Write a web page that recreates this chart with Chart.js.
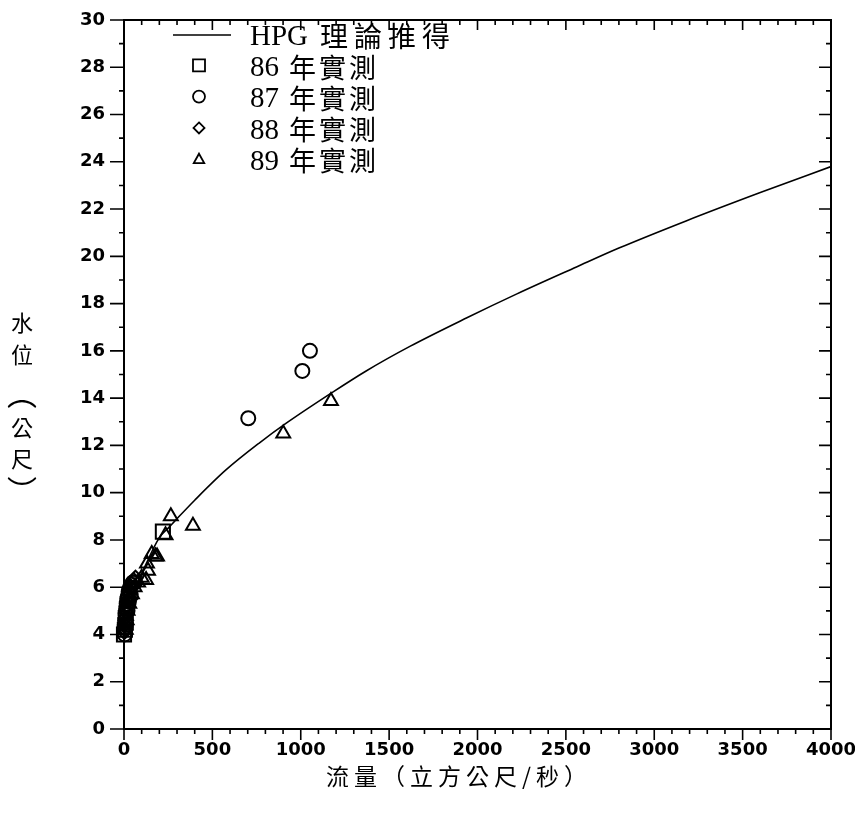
<!DOCTYPE html>
<html>
<head>
<meta charset="utf-8">
<script src="https://cdn.jsdelivr.net/npm/chart.js@4.4.1/dist/chart.umd.min.js"></script>
<style>
  html, body { margin: 0; padding: 0; background: #fff; }
  #wrap { width: 855px; height: 816px; position: relative; }
</style>
</head>
<body>
<div id="wrap"><canvas id="ratingCurve"></canvas></div>
<script>
// HPG theoretical rating curve (discharge, stage)
var hpgQ = [0, 20, 40, 70, 120, 200, 250, 300, 400, 575, 765, 920, 1170, 1370, 1620, 1940, 2220, 2560, 2800, 3180, 3600, 4000];
var hpgH = [4.0, 4.5, 5.2, 6.0, 6.9, 8.1, 8.5, 8.9, 9.68, 10.95, 12.1, 12.95, 14.2, 15.15, 16.2, 17.4, 18.4, 19.55, 20.35, 21.5, 22.7, 23.8];

// measured points per year
var q86 = [0, 5, 10, 220];
var h86 = [4.0, 4.2, 4.5, 8.35];
var q87 = [3, 6, 8, 12, 15, 18, 22, 26, 30, 35, 42, 50, 20, 28, 38, 60, 4, 10, 703, 1009, 1052];
var h87 = [4.3, 4.6, 4.9, 5.1, 5.3, 5.5, 5.6, 5.8, 5.9, 6.0, 6.1, 6.2, 5.0, 5.4, 5.7, 6.2, 4.0, 4.4, 13.15, 15.15, 16.0];
var q88 = [2, 5, 8, 10, 14, 18, 24, 30, 40, 55, 65, 12, 22, 35, 6, 16];
var h88 = [4.1, 4.4, 4.7, 5.0, 5.2, 5.4, 5.6, 5.8, 6.0, 6.3, 6.4, 4.6, 5.2, 5.5, 4.2, 4.9];
var q89 = [10, 15, 20, 30, 45, 60, 80, 100, 125, 136, 130, 157, 178, 187, 235, 265, 390, 901, 1171];
var h89 = [4.2, 4.6, 5.0, 5.3, 5.7, 6.0, 6.2, 6.4, 6.3, 6.7, 7.0, 7.4, 7.3, 7.3, 8.2, 9.0, 8.6, 12.5, 13.88];

// legend: number/latin part and CJK part of each label
var legendHead = ['HPG', '86', '87', '88', '89'];
var legendTail = ['理論推得', '年實測', '年實測', '年實測', '年實測'];
var xTitle = '流量（立方公尺/秒）';
var yTitle = ['水', '位', '︵', '公', '尺', '︶'];

function pts(qs, hs) {
  return qs.map(function (q, i) { return { x: q, y: hs[i] }; });
}

var serif = '"Liberation Serif", "Noto Sans CJK TC", serif';
var cjk = '"Noto Sans CJK TC", "Liberation Serif", serif';

// small marker shapes for the in-plot legend
function drawMark(ctx, style, x, y, r) {
  ctx.beginPath();
  if (style === 'rect') {
    ctx.rect(x - r, y - r, 2 * r, 2 * r);
  } else if (style === 'circle') {
    ctx.arc(x, y, r, 0, Math.PI * 2);
  } else if (style === 'rectRot') {
    ctx.moveTo(x, y - r); ctx.lineTo(x + r, y); ctx.lineTo(x, y + r); ctx.lineTo(x - r, y); ctx.closePath();
  } else if (style === 'triangle') {
    ctx.moveTo(x, y - r); ctx.lineTo(x + r * 0.95, y + r * 0.7); ctx.lineTo(x - r * 0.95, y + r * 0.7); ctx.closePath();
  }
  ctx.stroke();
}

var framePlugin = {
  id: 'frame',
  afterDraw: function (chart) {
    var ctx = chart.ctx, a = chart.chartArea;
    var xs = chart.scales.x, ys = chart.scales.y;
    ctx.save();
    ctx.strokeStyle = '#000';
    ctx.fillStyle = '#000';
    ctx.lineWidth = 2;
    ctx.strokeRect(a.left, a.top, a.right - a.left, a.bottom - a.top);

    // ticks: outward on left/bottom, inward on right/top
    ctx.lineWidth = 1.6;
    ctx.beginPath();
    for (var q = 0; q <= 4000; q += 100) {
      var px = xs.getPixelForValue(q);
      var bigX = q % 500 === 0;
      ctx.moveTo(px, a.bottom); ctx.lineTo(px, a.bottom + (bigX ? 11 : 5));
      ctx.moveTo(px, a.top); ctx.lineTo(px, a.top + (bigX ? 10 : 5));
    }
    for (var h = 0; h <= 30; h += 1) {
      var py = ys.getPixelForValue(h);
      var bigY = h % 2 === 0;
      ctx.moveTo(a.left, py); ctx.lineTo(a.left - (bigY ? 14 : 5), py);
      ctx.moveTo(a.right, py); ctx.lineTo(a.right - (bigY ? 12 : 5), py);
    }
    ctx.stroke();

    // legend inside the plot
    var ds = chart.data.datasets;
    ctx.textBaseline = 'middle';
    ctx.textAlign = 'left';
    for (var i = 0; i < legendHead.length; i++) {
      var ly = 36 + i * 31.3;
      ctx.lineWidth = 1.6;
      if (i === 0) {
        ctx.beginPath(); ctx.moveTo(173, ly - 1); ctx.lineTo(231, ly - 1); ctx.stroke();
      } else {
        var st = ds[i].pointStyle;
        var rr = st === 'rect' ? 6 : (st === 'circle' ? 6 : 5.5);
        ctx.lineWidth = 1.8;
        drawMark(ctx, st, 199, ly - 2, rr);
      }
      ctx.font = '29px ' + serif;
      ctx.fillText(legendHead[i], 250, ly + 1);
      ctx.font = (i === 0 ? '28px ' : '27px ') + cjk;
      var cx = i === 0 ? 320 : 289;
      var pitch = i === 0 ? 34 : 30;
      for (var c = 0; c < legendTail[i].length; c++) {
        ctx.fillText(legendTail[i][c], cx + c * pitch, ly);
      }
    }

    // axis titles
    ctx.letterSpacing = '5px';
    ctx.font = '23px ' + cjk;
    ctx.textAlign = 'center';
    ctx.fillText(xTitle, 459, 776);
    ctx.letterSpacing = '0px';
    var ty = [323, 355, 394, 428, 459, 491];
    for (var k = 0; k < yTitle.length; k++) {
      // vertical bracket forms drawn a bit larger
      ctx.font = (k === 2 || k === 5 ? '30px ' : '22px ') + cjk;
      ctx.fillText(yTitle[k], 22, ty[k]);
    }
    ctx.restore();
  }
};

var ctx = document.getElementById('ratingCurve').getContext('2d');

var markBase = {
  type: 'scatter',
  backgroundColor: 'rgba(0,0,0,0)',
  borderColor: '#000',
  pointBorderWidth: 2,
  clip: false
};

var tickFont = { family: '"DejaVu Sans"', size: 18, weight: 'bold' };

var myChart = new Chart(ctx, {
  type: 'scatter',
  data: {
    datasets: [
      {
        label: legendHead[0] + ' ' + legendTail[0],
        data: pts(hpgQ, hpgH),
        showLine: true,
        borderColor: '#000',
        borderWidth: 1.6,
        pointRadius: 0,
        cubicInterpolationMode: 'monotone',
        fill: false
      },
      Object.assign({}, markBase, { label: '86', data: pts(q86, h86), pointStyle: 'rect', pointRadius: 10 }),
      Object.assign({}, markBase, { label: '87', data: pts(q87, h87), pointStyle: 'circle', pointRadius: 7 }),
      Object.assign({}, markBase, { label: '88', data: pts(q88, h88), pointStyle: 'rectRot', pointRadius: 7 }),
      Object.assign({}, markBase, { label: '89', data: pts(q89, h89), pointStyle: 'triangle', pointRadius: 8 })
    ]
  },
  options: {
    responsive: true,
    maintainAspectRatio: false,
    animation: false,
    layout: { padding: { top: 20, right: 24, left: 0, bottom: 0 } },
    plugins: { legend: { display: false }, tooltip: { enabled: false } },
    scales: {
      x: {
        type: 'linear',
        min: 0,
        max: 4000,
        grid: { display: false, drawTicks: false },
        border: { display: false },
        ticks: {
          stepSize: 500,
          maxRotation: 0,
          autoSkip: false,
          padding: 11,
          color: '#000',
          font: tickFont,
          callback: function (v) { return String(v); }
        },
        afterFit: function (scale) {
          scale.height = 87;
          scale.paddingLeft = 0;
          scale.paddingRight = 0;
        }
      },
      y: {
        type: 'linear',
        min: 0,
        max: 30,
        grid: { display: false, drawTicks: false },
        border: { display: false },
        ticks: {
          stepSize: 2,
          padding: 19,
          color: '#000',
          font: tickFont,
          callback: function (v) { return String(v); }
        },
        afterFit: function (scale) {
          scale.width = 124;
          scale.paddingTop = 0;
          scale.paddingBottom = 0;
        }
      }
    }
  },
  plugins: [framePlugin]
});
</script>
</body>
</html>
